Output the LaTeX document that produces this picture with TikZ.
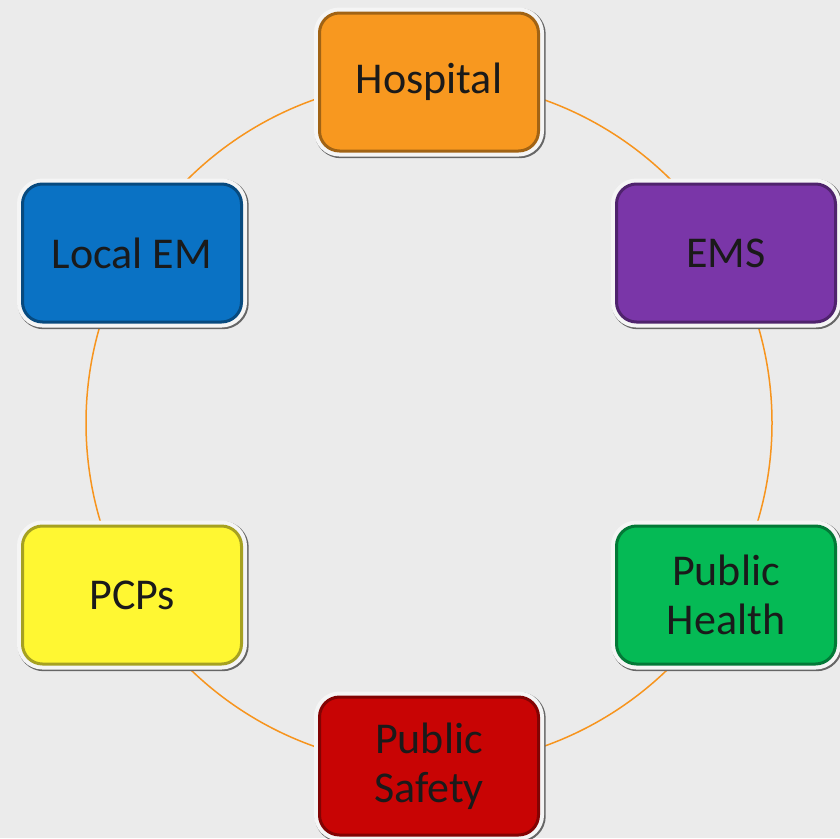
\documentclass[tikz,border=0pt]{standalone}
\usepackage{fontspec}
\setmainfont{Carlito}
\definecolor{bgc}{HTML}{EBEBEB}
\definecolor{ringc}{HTML}{F7941D}
\definecolor{txtc}{HTML}{1A1A1A}
\definecolor{hospc}{HTML}{F8981F}
\definecolor{emsc}{HTML}{7A36A8}
\definecolor{phc}{HTML}{05BA55}
\definecolor{psc}{HTML}{C80404}
\definecolor{pcpc}{HTML}{FFF732}
\definecolor{lemc}{HTML}{0A72C4}
\tikzset{
  tile/.style={rounded corners=20pt, minimum width=219pt, minimum height=138pt,
    inner sep=0pt, align=center, text=txtc,
    font=\fontsize{44}{49}\selectfont,
    fill=#1, draw=#1!65!black, line width=3pt,
    preaction={draw=gray!80!black, line width=12pt, transform canvas={shift={(1.2pt,-1.2pt)}}},
    preaction={draw=white!92!gray, line width=11pt}},
  ring/.style={draw=ringc, line width=1.5pt}
}
\begin{document}
\begin{tikzpicture}[x=1pt,y=-1pt]
\fill[bgc] (0,0) rectangle (840,838);
\useasboundingbox (0,0) rectangle (840,838);
\coordinate (c) at (429,423);
\draw[ring] (c) circle[radius=343pt];
\node[tile=hospc] (hosp) at (429,82) {Hospital};
\node[tile=emsc] (ems) at (726,253) {EMS};
\node[tile=phc] (ph) at (726,595) {Public\\Health};
\node[tile=psc] (ps) at (429,766) {Public\\Safety};
\node[tile=pcpc] (pcp) at (132,595) {PCPs};
\node[tile=lemc] (lem) at (132,253) {Local EM};
\end{tikzpicture}
\end{document}
